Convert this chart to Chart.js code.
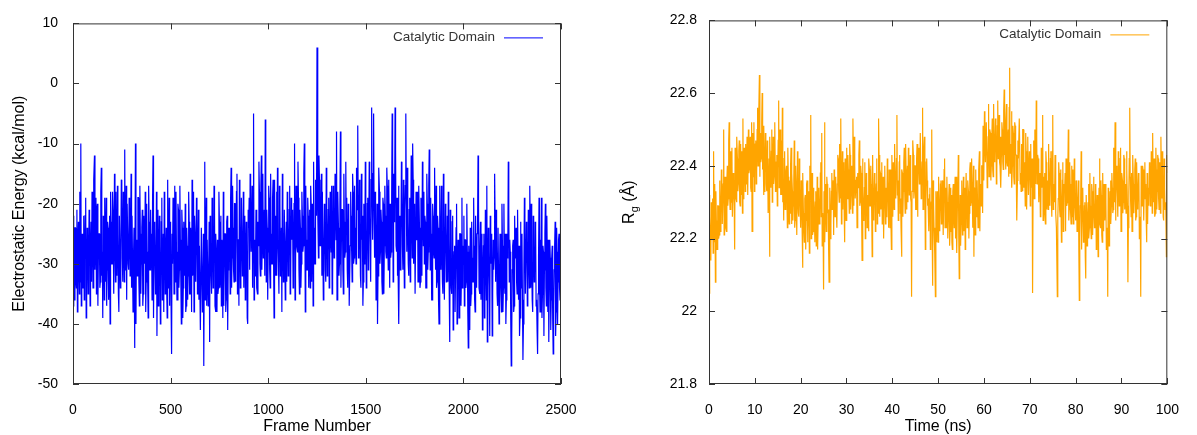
<!DOCTYPE html>
<html>
<head>
<meta charset="utf-8">
<script src="https://cdn.jsdelivr.net/npm/chart.js@4/dist/chart.umd.min.js"></script>
<style>
html, body { margin: 0; padding: 0; background: #fff; }
#wrap { position: relative; width: 1197px; height: 435px; }
canvas { position: absolute; top: 0; }
</style>
</head>
<body>
<div id="wrap">
  <canvas id="chart-energy" width="598" height="435" style="left:0"></canvas>
  <canvas id="chart-rg" width="599" height="435" style="left:598px"></canvas>
</div>
<script>
// electrostatic energy, one value every 2.5 frames (0..2500)
const frameStep = 2.5;
const energy = [
  -37,-22,-29,-36,-24,-24,-33,-34,-21,-38, -27,-23,-31,-35,-18,-33,-10,-37,-26,-25, -34,-34,-22,-36,-29,-22,-19,-39,-36,-24, -25,-35,-30,-21,-23,-37,-28,-23,-33,-18,
  -24,-34,-31,-16,-12,-31,-27,-19,-35,-21, -20,-37,-29,-25,-25,-34,-33,-18,-14,-32, -28,-39,-22,-24,-36,-19,-26,-33,-19,-37, -31,-23,-24,-36,-34,-22,-40,-18,-23,-30,
  -30,-18,-21,-31,-35,-15,-27,-33,-18,-30, -32,-17,-25,-35,-38,-22,-22,-34,-28,-16, -17,-29,-33,-18,-26,-33,-11,-31,-29,-17, -36,-20,-20,-30,-31,-19,-24,-32,-27,-15,
  -34,-22,-22,-38,-29,-24,-44,-36,-10,-40, -26,-31,-32,-19,-19,-33,-37,-17,-25,-35, -30,-24,-21,-37,-35,-22,-27,-30,-18,-38, -33,-20,-28,-33,-39,-17,-23,-31,-31,-21,
  -26,-25,-36,-20,-12,-39,-29,-23,-24,-35, -33,-18,-42,-32,-21,-37,-30,-22,-27,-40, -35,-23,-19,-36,-31,-25,-38,-18,-25,-35, -28,-24,-34,-39,-16,-34,-29,-19,-37,-23,
  -24,-37,-45,-25,-30,-19,-22,-35,-17,-32, -33,-18,-28,-36,-36,-20,-21,-34,-31,-17, -26,-33,-40,-21,-24,-39,-34,-23,-29,-32, -20,-38,-37,-24,-27,-36,-32,-18,-23,-35,
  -35,-24,-28,-38,-16,-32,-31,-18,-38,-22, -25,-33,-33,-19,-22,-35,-30,-21,-36,-27, -27,-41,-41,-24,-24,-38,-34,-25,-47,-30, -13,-36,-29,-19,-37,-26,-26,-37,-32,-23,
  -43,-22,-27,-32,-35,-19,-24,-34,-31,-17, -21,-37,-38,-25,-29,-38,-26,-35,-34,-18, -23,-34,-32,-22,-37,-26,-28,-39,-18,-37, -30,-25,-25,-38,-36,-23,-22,-41,-31,-24,
  -27,-24,-35,-19,-14,-34,-29,-17,-24,-31, -33,-20,-20,-33,-30,-18,-15,-35,-26,-26, -37,-16,-23,-34,-31,-19,-19,-32,-28,-18, -34,-25,-22,-36,-30,-23,-26,-39,-40,-21,
  -24,-19,-31,-15,-20,-28,-28,-17,-34,-20, -5,-36,-26,-32,-30,-21,-22,-34,-35,-23, -27,-13,-18,-30,-32,-17,-12,-31,-25,-15, -29,-28,-21,-32,-6,-16,-33,-21,-24,-36,
  -28,-17,-19,-31,-34,-15,-25,-30,-30,-19, -16,-29,-39,-16,-27,-32,-22,-18,-32,-14, -26,-30,-35,-17,-20,-32,-29,-24,-38,-15, -24,-33,-31,-21,-21,-36,-27,-23,-33,-18,
  -23,-32,-30,-21,-17,-35,-34,-19,-26,-22, -21,-34,-29,-20,-10,-36,-32,-17,-25,-27, -28,-13,-19,-31,-35,-21,-24,-34,-30,-18, -22,-28,-27,-15,-10,-20,-38,-17,-26,-31,
  -31,-19,-22,-34,-28,-21,-34,-17,-20,-33, -26,-20,-37,-13,-24,-30,-30,-16,-19,-22, 6,-14,-21,-29,-12,-16,-27,-27,-23,-15, -32,-18,-18,-36,-29,-20,-25,-31,-33,-14,
  -22,-32,-28,-21,-19,-34,-31,-18,-25,-28, -17,-35,-33,-17,-23,-29,-27,-15,-20,-26, -8,-36,-29,-18,-24,-32,-30,-20,-8,-34, -26,-21,-21,-31,-35,-15,-23,-29,-28,-13,
  -25,-19,-31,-34,-20,-21,-37,-37,-27,-18, -22,-28,-33,-15,-18,-30,-29,-17,-24,-27, -30,-14,-21,-19,-7,-29,-28,-16,-23,-32, -34,-15,-26,-22,-37,-33,-20,-30,-29,-13,
  -24,-34,-30,-20,-19,-31,-27,-13,-22,-27, -33,-16,-4,-19,-26,-15,-5,-22,-29,-18, -21,-36,-31,-20,-40,-32,-25,-14,-18,-30, -28,-21,-23,-33,-35,-19,-20,-35,-27,-17,
  -22,-28,-29,-14,-17,-26,-31,-16,-24,-34, -20,-29,-28,-19,-5,-13,-33,-15,-23,-21, -4,-11,-27,-28,-19,-32,-30,-17,-40,-26, -22,-31,-26,-13,-18,-27,-31,-16,-25,-34,
  -21,-17,-5,-20,-28,-14,-23,-30,-32,-21, -19,-33,-27,-12,-24,-29,-10,-16,-30,-20, -22,-35,-35,-18,-26,-26,-18,-33,-29,-17, -24,-34,-33,-19,-20,-32,-13,-21,-27,-18,
  -30,-22,-23,-34,-34,-15,-20,-31,-28,-17, -11,-23,-31,-19,-25,-36,-36,-20,-22,-28, -29,-14,-26,-31,-17,-34,-33,-22,-24,-36, -40,-20,-17,-29,-31,-17,-27,-33,-35,-15,
  -28,-36,-36,-20,-24,-33,-31,-22,-33,-18, -26,-35,-43,-21,-29,-34,-35,-23,-22,-41, -31,-28,-27,-38,-38,-24,-20,-40,-33,-26, -29,-39,-36,-25,-25,-37,-32,-19,-34,-27,
  -30,-22,-37,-26,-26,-34,-33,-20,-28,-38, -44,-27,-31,-41,-24,-37,-35,-23,-29,-33, -33,-19,-27,-36,-38,-22,-30,-34,-25,-24, -12,-20,-34,-35,-29,-23,-36,-25,-27,-41,
  -32,-27,-25,-39,-36,-21,-29,-36,-17,-43, -34,-24,-28,-34,-42,-22,-30,-25,-26,-42, -35,-26,-31,-29,-15,-23,-33,-21,-27,-35, -37,-24,-24,-40,-32,-25,-29,-34,-38,-20,
  -27,-38,-34,-20,-30,-35,-25,-40,-36,-25, -29,-28,-13,-21,-33,-26,-28,-39,-47,-43, -31,-27,-26,-38,-37,-22,-29,-25,-24,-33, -35,-21,-30,-36,-27,-42,-39,-23,-32,-34,
  -25,-36,-46,-40,-31,-19,-28,-35,-35,-23, -26,-37,-33,-21,-29,-34,-17,-24,-34,-20, -30,-36,-38,-22,-27,-33,-32,-23,-24,-37, -36,-41,-45,-35,-29,-19,-33,-38,-26,-34,
  -19,-39,-35,-27,-28,-42,-31,-25,-20,-34, -37,-22,-30,-38,-26,-43,-34,-26,-29,-41, -36,-29,-27,-39,-45,-37,-31,-27,-23,-42, -38,-24,-28,-40,-33,-26,-25,-34,-36,-21,
  -20
];

// radius of gyration, one value every 0.1 ns (0..100)
const timeStep = 0.1;
const rg = [
  22.05,22.32,22.26,22.18,22.14,22.30,22.22,22.20,22.31,22.16, 22.44,22.23,22.19,22.35,22.08,22.33,22.25,22.17,22.17,22.29, 22.29,22.20,22.21,22.36,22.34,22.22,22.26,22.39,22.38,22.24, 22.24,22.35,22.50,22.21,22.29,22.37,22.35,22.23,22.22,22.36,
  22.40,22.29,22.31,22.47,22.52,22.32,22.28,22.44,22.37,22.30, 22.45,22.26,22.26,22.38,22.33,22.29,22.17,22.45,22.39,22.31, 22.30,22.48,22.42,22.33,22.35,22.44,22.47,22.30,22.29,22.46, 22.38,22.32,22.44,22.27,22.53,22.31,22.34,22.45,22.41,22.33,
  22.46,22.35,22.36,22.48,22.43,22.32,22.50,22.38,22.39,22.47, 22.48,22.34,22.33,22.52,22.22,22.49,22.44,22.37,22.52,22.33, 22.40,22.46,22.47,22.35,22.38,22.50,22.56,22.40,22.45,22.54, 22.65,22.37,22.49,22.41,22.42,22.52,22.60,22.39,22.44,22.32,
  22.51,22.33,22.38,22.49,22.46,22.35,22.33,22.47,22.41,22.27, 22.27,22.42,22.15,22.48,22.36,22.34,22.44,22.50,22.30,22.32, 22.48,22.35,22.37,22.48,22.52,22.33,22.34,22.41,22.43,22.29, 22.39,22.47,22.58,22.34,22.40,22.50,22.32,22.36,22.47,22.32,
  22.56,22.30,22.35,22.25,22.42,22.44,22.28,22.28,22.38,22.40, 22.31,22.23,22.45,22.37,22.26,22.24,22.36,22.27,22.40,22.45, 22.24,22.38,22.33,22.25,22.29,22.36,22.47,22.23,22.25,22.40, 22.35,22.29,22.21,22.44,22.30,22.27,22.26,22.42,22.34,22.28,
  22.23,22.36,22.30,22.24,22.12,22.38,22.27,22.22,22.19,22.31, 22.32,22.17,22.25,22.35,22.36,22.19,22.22,22.33,22.28,22.16, 22.40,22.32,22.54,22.20,22.31,22.38,22.21,22.22,22.34,22.31, 22.26,22.19,22.30,22.33,22.18,22.21,22.37,22.17,22.24,22.34,
  22.32,22.24,22.26,22.38,22.41,22.26,22.49,22.18,22.27,22.22, 22.06,22.33,22.52,22.19,22.30,22.35,22.22,22.37,22.35,22.27, 22.28,22.17,22.08,22.34,22.33,22.20,22.24,22.33,22.38,22.28, 22.29,22.36,22.21,22.39,22.36,22.26,22.31,22.37,22.27,22.23,
  22.35,22.43,22.42,22.33,22.30,22.46,22.38,22.31,22.53,22.24, 22.33,22.44,22.28,22.40,22.41,22.27,22.19,22.42,22.36,22.25, 22.45,22.31,22.31,22.43,22.39,22.33,22.27,22.46,22.43,22.28, 22.34,22.40,22.37,22.27,22.53,22.42,22.29,22.48,22.40,22.31,
  22.31,22.36,22.37,22.23,22.26,22.38,22.34,22.43,22.47,22.29, 22.30,22.40,22.38,22.27,22.14,22.42,22.33,22.25,22.28,22.34, 22.41,22.20,22.25,22.38,22.36,22.23,22.32,22.28,22.22,22.42, 22.39,22.29,22.29,22.40,22.35,22.27,22.15,22.43,22.31,22.25,
  22.27,22.38,22.36,22.22,22.30,22.35,22.42,22.24,22.33,22.27, 22.53,22.43,22.26,22.39,22.38,22.28,22.31,22.41,22.24,22.34, 22.37,22.20,22.29,22.37,22.40,22.24,22.34,22.26,22.27,22.42, 22.36,22.29,22.23,22.39,22.32,22.23,22.39,22.28,22.17,22.43,
  22.34,22.26,22.41,22.30,22.28,22.46,22.37,22.31,22.32,22.42, 22.54,22.32,22.36,22.25,22.29,22.41,22.43,22.27,22.31,22.23, 22.15,22.39,22.38,22.26,22.33,22.41,22.45,22.33,22.27,22.46, 22.39,22.28,22.34,22.40,22.30,22.45,22.42,22.32,22.36,22.43,
  22.31,22.30,22.04,22.33,22.37,22.47,22.43,22.31,22.33,22.40, 22.40,22.28,22.28,22.42,22.46,22.26,22.35,22.45,22.42,22.35, 22.37,22.49,22.49,22.31,22.34,22.41,22.56,22.28,22.39,22.44, 22.48,22.34,22.17,22.27,22.41,22.42,22.36,22.29,22.30,22.31,
  22.22,22.32,22.34,22.17,22.28,22.30,22.50,22.20,22.07,22.36, 22.30,22.23,22.20,22.16,22.04,22.33,22.26,22.19,22.33,22.29, 22.19,22.37,22.29,22.22,22.24,22.35,22.36,22.24,22.27,22.36, 22.31,22.21,22.21,22.39,22.42,22.23,22.28,22.34,22.23,22.37,
  22.30,22.20,22.25,22.31,22.35,22.18,22.22,22.34,22.28,22.32, 22.19,22.17,22.33,22.35,22.26,22.23,22.31,22.37,22.20,22.30, 22.37,22.16,22.29,22.34,22.43,22.20,22.09,22.24,22.32,22.18, 22.24,22.31,22.36,22.21,22.27,22.37,22.22,22.33,22.34,22.17,
  22.29,22.38,22.38,22.23,22.25,22.36,22.33,22.20,22.27,22.39, 22.41,22.29,22.30,22.42,22.35,22.27,22.23,22.40,22.15,22.34, 22.32,22.21,22.39,22.26,22.28,22.36,22.36,22.23,22.31,22.39, 22.44,22.22,22.34,22.35,22.29,22.40,22.40,22.27,22.51,22.44,
  22.36,22.55,22.47,22.41,22.41,22.52,22.52,22.34,22.38,22.48, 22.57,22.37,22.44,22.50,22.49,22.36,22.40,22.47,22.53,22.39, 22.37,22.57,22.46,22.41,22.42,22.53,22.50,22.35,22.39,22.51, 22.58,22.42,22.45,22.54,22.41,22.40,22.48,22.34,22.43,22.52,
  22.50,22.41,22.39,22.55,22.61,22.43,22.45,22.39,22.52,22.57, 22.41,22.40,22.48,22.50,22.37,22.56,22.67,22.38,22.46,22.44, 22.55,22.34,22.40,22.51,22.49,22.37,22.35,22.52,22.51,22.43, 22.43,22.38,22.25,22.36,22.47,22.42,22.42,22.53,22.53,22.35,
  22.38,22.33,22.46,22.36,22.33,22.50,22.50,22.34,22.41,22.37, 22.29,22.49,22.44,22.28,22.36,22.45,22.48,22.32,22.32,22.44, 22.40,22.29,22.46,22.34,22.34,22.42,22.05,22.31,22.39,22.47, 22.31,22.50,22.43,22.35,22.58,22.48,22.35,22.43,22.42,22.34,
  22.30,22.38,22.37,22.26,22.27,22.45,22.34,22.39,22.54,22.25, 22.29,22.37,22.38,22.27,22.24,22.44,22.41,22.28,22.33,22.36, 22.28,22.46,22.36,22.29,22.31,22.42,22.44,22.30,22.26,22.44, 22.54,22.28,22.35,22.31,22.30,22.43,22.39,22.27,22.23,22.23,
  22.04,22.25,22.31,22.41,22.38,22.28,22.26,22.39,22.34,22.19, 22.29,22.36,22.41,22.22,22.27,22.35,22.33,22.38,22.22,22.42, 22.37,22.29,22.30,22.39,22.50,22.25,22.28,22.41,22.35,22.27, 22.24,22.40,22.32,22.26,22.39,22.24,22.26,22.42,22.31,22.28,
  22.25,22.36,22.33,22.22,22.22,22.30,22.36,22.16,22.03,22.20, 22.29,22.31,22.44,22.17,22.27,22.33,22.34,22.19,22.21,22.29, 22.30,22.15,22.09,22.32,22.32,22.18,22.26,22.30,22.35,22.20, 22.23,22.38,22.29,22.23,22.20,22.35,22.33,22.21,22.27,22.37,
  22.31,22.23,22.24,22.35,22.34,22.17,22.21,22.32,22.29,22.15, 22.26,22.34,22.42,22.24,22.23,22.36,22.32,22.21,22.19,22.38, 22.28,22.22,22.35,22.25,22.25,22.35,22.30,22.17,22.22,22.23, 22.04,22.34,22.31,22.18,22.27,22.33,22.36,22.24,22.29,22.38,
  22.34,22.27,22.28,22.45,22.39,22.30,22.52,22.25,22.31,22.40, 22.37,22.31,22.26,22.44,22.41,22.29,22.33,22.42,22.45,22.22, 22.29,22.38,22.36,22.27,22.30,22.43,22.42,22.28,22.35,22.32, 22.27,22.44,22.39,22.29,22.08,22.23,22.33,22.42,22.56,22.37,
  22.30,22.26,22.38,22.22,22.27,22.43,22.35,22.27,22.31,22.39, 22.42,22.25,22.26,22.41,22.34,22.28,22.29,22.38,22.37,22.20, 22.22,22.26,22.04,22.40,22.33,22.29,22.40,22.39,22.28,22.25, 22.36,22.41,22.31,22.35,22.25,22.19,22.38,22.24,22.33,22.34,
  22.29,22.41,22.37,22.29,22.31,22.44,22.40,22.27,22.49,22.36, 22.30,22.42,22.35,22.26,22.27,22.45,22.39,22.28,22.33,22.43, 22.42,22.31,22.28,22.41,22.36,22.27,22.48,22.37,22.31,22.44, 22.38,22.26,22.25,22.42,22.34,22.28,22.29,22.30,22.15,22.43,
  22.38
];

// tick positions
const energyXTicks = [0, 500, 1000, 1500, 2000, 2500];
const energyYTicks = [-50, -40, -30, -20, -10, 0, 10];
const rgXTicks = [0, 10, 20, 30, 40, 50, 60, 70, 80, 90, 100];
const rgYTicks = [21.8, 22, 22.2, 22.4, 22.6, 22.8];

const tickFont = { family: 'Liberation Sans', size: 14 };
const titleFont = '16px "Liberation Sans"';
const legendFont = '13.5px "Liberation Sans"';

// gnuplot-like frame: box around the plot, short ticks pointing inwards on all sides
const frameTicks = {
  id: 'frameTicks',
  afterDatasetsDraw(chart) {
    const { ctx, chartArea: a, scales: { x, y } } = chart;
    const len = 6;
    ctx.save();
    ctx.strokeStyle = '#333';
    ctx.lineWidth = 1;
    ctx.strokeRect(a.left + 0.5, a.top + 0.5, a.right - a.left - 1, a.bottom - a.top - 1);
    ctx.beginPath();
    x.ticks.forEach(t => {
      const px = Math.round(x.getPixelForValue(t.value)) + 0.5;
      ctx.moveTo(px, a.bottom); ctx.lineTo(px, a.bottom - len);
      ctx.moveTo(px, a.top); ctx.lineTo(px, a.top + len);
    });
    y.ticks.forEach(t => {
      const py = Math.round(y.getPixelForValue(t.value)) + 0.5;
      ctx.moveTo(a.left, py); ctx.lineTo(a.left + len, py);
      ctx.moveTo(a.right, py); ctx.lineTo(a.right - len, py);
    });
    ctx.stroke();
    ctx.restore();
  },
  afterDraw(chart, args, opts) {
    const { ctx, chartArea: a } = chart;
    const ds = chart.data.datasets[0];
    ctx.save();
    // key: label then a short line sample, top right inside the box
    ctx.font = legendFont;
    ctx.fillStyle = '#333';
    ctx.textAlign = 'right';
    ctx.textBaseline = 'middle';
    ctx.fillText(ds.label, a.right - 66, a.top + 14);
    ctx.strokeStyle = ds.borderColor;
    ctx.lineWidth = 1;
    ctx.beginPath();
    ctx.moveTo(a.right - 57, a.top + 14.5);
    ctx.lineTo(a.right - 18, a.top + 14.5);
    ctx.stroke();

    // axis titles
    ctx.fillStyle = '#000';
    ctx.font = titleFont;
    ctx.textAlign = 'center';
    ctx.textBaseline = 'middle';
    ctx.fillText(opts.xTitle, (a.left + a.right) / 2, 427);
    ctx.translate(opts.yTitleX, (a.top + a.bottom) / 2);
    ctx.rotate(-Math.PI / 2);
    if (opts.ySub) {
      // R with a subscript g
      const big = opts.yTitle, sub = opts.ySub, rest = opts.yRest;
      const w1 = ctx.measureText(big).width;
      const w3 = ctx.measureText(rest).width;
      ctx.font = '11px "Liberation Sans"';
      const w2 = ctx.measureText(sub).width;
      let xx = -(w1 + w2 + w3) / 2;
      ctx.textAlign = 'left';
      ctx.font = titleFont;
      ctx.fillText(big, xx, 0); xx += w1;
      ctx.font = '11px "Liberation Sans"';
      ctx.fillText(sub, xx, 5); xx += w2;
      ctx.font = titleFont;
      ctx.fillText(rest, xx, 0);
    } else {
      ctx.fillText(opts.yTitle, 0, 0);
    }
    ctx.restore();
  }
};

function makeScale(min, max, ticks, padding, fit, fmt) {
  return {
    type: 'linear',
    min: min,
    max: max,
    afterBuildTicks: s => { s.ticks = ticks.map(v => ({ value: v })); },
    afterFit: fit,
    grid: { display: false, drawTicks: false },
    border: { display: false },
    ticks: {
      padding: padding,
      color: '#000',
      font: tickFont,
      autoSkip: false,
      maxRotation: 0,
      callback: fmt || (v => String(v))
    }
  };
}

new Chart(document.getElementById('chart-energy'), {
  type: 'line',
  data: {
    datasets: [{
      label: 'Catalytic Domain',
      data: energy.map((v, i) => ({ x: i * frameStep, y: v })),
      borderColor: '#0000ff',
      borderWidth: 1.2,
      pointRadius: 0,
      tension: 0
    }]
  },
  options: {
    responsive: false,
    animation: false,
    layout: { padding: { left: 0, top: 20, right: 37, bottom: 0 } },
    plugins: {
      legend: { display: false },
      tooltip: { enabled: false },
      frameTicks: { xTitle: 'Frame Number', yTitle: 'Electrostatic Energy (kcal/mol)', yTitleX: 20 }
    },
    scales: {
      x: makeScale(0, 2500, energyXTicks, 18, s => { s.height = 51; }),
      y: makeScale(-50, 10, energyYTicks, 15, s => { s.width = 73; })
    }
  },
  plugins: [frameTicks]
});

new Chart(document.getElementById('chart-rg'), {
  type: 'line',
  data: {
    datasets: [{
      label: 'Catalytic Domain',
      data: rg.map((v, i) => ({ x: +(i * timeStep).toFixed(1), y: v })),
      borderColor: '#ffa500',
      borderWidth: 1.2,
      pointRadius: 0,
      tension: 0
    }]
  },
  options: {
    responsive: false,
    animation: false,
    layout: { padding: { left: 0, top: 20, right: 17, bottom: 0 } },
    plugins: {
      legend: { display: false },
      tooltip: { enabled: false },
      frameTicks: { xTitle: 'Time (ns)', yTitle: 'R', ySub: 'g', yRest: ' (\u00c5)', yTitleX: 32 }
    },
    scales: {
      x: makeScale(0, 100, rgXTicks, 18, s => { s.height = 51; }),
      y: makeScale(21.8, 22.8, rgYTicks, 12, s => { s.width = 111; }, v => String(+v.toFixed(1)))
    }
  },
  plugins: [frameTicks]
});
</script>
</body>
</html>
